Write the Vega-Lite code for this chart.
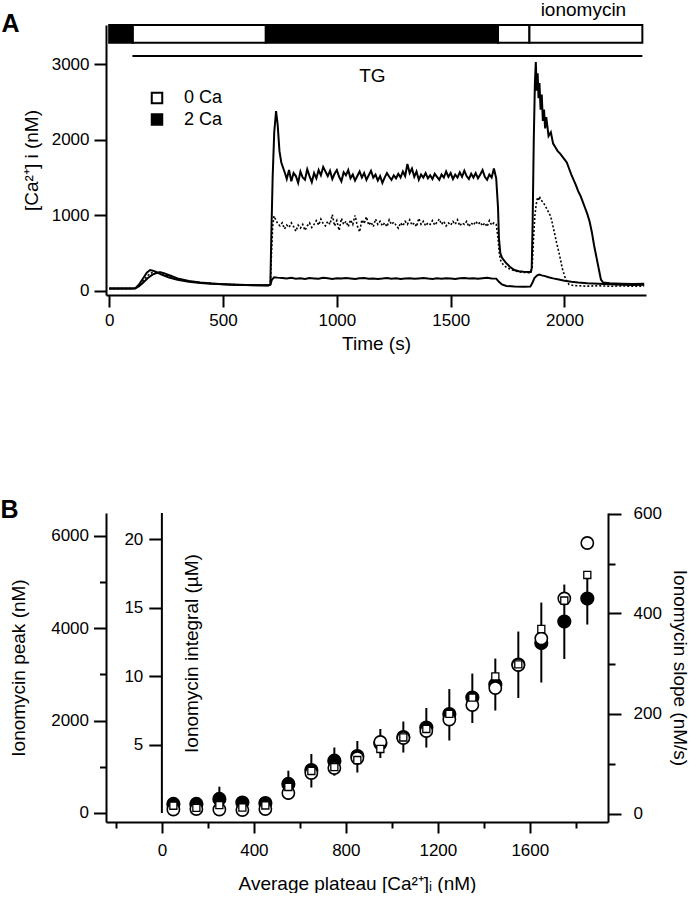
{
"$schema": "https://vega.github.io/schema/vega-lite/v6.json",
"padding": {"left": 0, "top": 0, "right": 8, "bottom": 0},
"spacing": 144,
"config": {
  "view": {"stroke": null},
  "font": "Liberation Sans",
  "axis": {"labelFont": "Liberation Sans", "titleFont": "Liberation Sans", "labelFontSize": 17, "titleFontSize": 19, "titleFontWeight": "normal", "labelColor": "black", "titleColor": "black", "domainColor": "black", "tickColor": "black", "domainWidth": 2, "tickWidth": 2, "grid": false, "labelFlush": false, "labelOverlap": false},
  "text": {"font": "Liberation Sans", "color": "black"}
},
"datasets": {
  "bar": [
    {"t0": 0, "t1": 104, "ca": "2 Ca"},
    {"t0": 104, "t1": 688, "ca": "0 Ca"},
    {"t0": 688, "t1": 1708, "ca": "2 Ca"},
    {"t0": 1708, "t1": 1846, "ca": "0 Ca"},
    {"t0": 1846, "t1": 2342, "ca": "0 Ca"}
  ],
  "a": [
    {"t":0,"v":30},{"t":50,"v":32},{"t":100,"v":30},{"t":115,"v":35},{"t":130,"v":80},{"t":150,"v":170},{"t":165,"v":240},{"t":180,"v":275},{"t":195,"v":265},{"t":210,"v":245},{"t":230,"v":215},{"t":260,"v":180},{"t":300,"v":145},{"t":350,"v":120},{"t":400,"v":105},{"t":450,"v":95},{"t":500,"v":88},{"t":550,"v":82},{"t":600,"v":78},{"t":650,"v":75},{"t":700,"v":74},{"t":708,"v":90},{"t":712,"v":700},{"t":718,"v":1500},{"t":725,"v":2100},{"t":733,"v":2380},{"t":740,"v":2200},{"t":748,"v":1850},{"t":756,"v":1700},{"t":765,"v":1620},{"t":772,"v":1560},
    {"t":780,"v":1480},{"t":790,"v":1600},{"t":800,"v":1450},{"t":810,"v":1560},{"t":820,"v":1520},{"t":830,"v":1430},{"t":840,"v":1580},{"t":850,"v":1500},{"t":860,"v":1470},{"t":870,"v":1610},{"t":880,"v":1520},{"t":890,"v":1440},{"t":900,"v":1560},{"t":910,"v":1490},{"t":920,"v":1600},{"t":930,"v":1530},{"t":940,"v":1640},{"t":950,"v":1580},{"t":960,"v":1520},{"t":970,"v":1590},{"t":980,"v":1480},{"t":990,"v":1550},{"t":1000,"v":1600},{"t":1010,"v":1510},{"t":1020,"v":1450},{"t":1030,"v":1570},{"t":1040,"v":1530},{"t":1050,"v":1600},{"t":1060,"v":1490},{"t":1070,"v":1540},{"t":1080,"v":1460},{"t":1090,"v":1520},{"t":1100,"v":1580},{"t":1110,"v":1500},{"t":1120,"v":1560},{"t":1130,"v":1470},{"t":1140,"v":1530},{"t":1150,"v":1590},{"t":1160,"v":1500},{"t":1170,"v":1540},{"t":1180,"v":1460},{"t":1190,"v":1520},{"t":1200,"v":1430},{"t":1210,"v":1500},{"t":1220,"v":1560},{"t":1230,"v":1510},{"t":1240,"v":1470},{"t":1250,"v":1530},{"t":1260,"v":1490},{"t":1270,"v":1550},{"t":1280,"v":1500},{"t":1290,"v":1580},{"t":1300,"v":1520},{"t":1310,"v":1680},{"t":1320,"v":1560},{"t":1330,"v":1620},{"t":1340,"v":1510},{"t":1350,"v":1580},{"t":1360,"v":1470},{"t":1370,"v":1540},{"t":1380,"v":1500},{"t":1390,"v":1560},{"t":1400,"v":1490},{"t":1410,"v":1530},{"t":1420,"v":1480},{"t":1430,"v":1550},{"t":1440,"v":1510},{"t":1450,"v":1470},{"t":1460,"v":1540},{"t":1470,"v":1500},{"t":1480,"v":1580},{"t":1490,"v":1510},{"t":1500,"v":1560},{"t":1510,"v":1480},{"t":1520,"v":1540},{"t":1530,"v":1500},{"t":1540,"v":1570},{"t":1550,"v":1510},{"t":1560,"v":1590},{"t":1570,"v":1520},{"t":1580,"v":1480},{"t":1590,"v":1550},{"t":1600,"v":1500},{"t":1610,"v":1560},{"t":1620,"v":1490},{"t":1630,"v":1540},{"t":1640,"v":1600},{"t":1650,"v":1510},{"t":1660,"v":1470},{"t":1670,"v":1540},{"t":1680,"v":1500},{"t":1690,"v":1620},{"t":1700,"v":1490},
    {"t":1708,"v":1100},{"t":1712,"v":700},{"t":1718,"v":500},{"t":1725,"v":440},{"t":1740,"v":380},{"t":1760,"v":320},{"t":1780,"v":275},{"t":1800,"v":260},{"t":1820,"v":252},{"t":1840,"v":248},{"t":1852,"v":250},{"t":1856,"v":300},{"t":1860,"v":900},{"t":1865,"v":2000},{"t":1870,"v":2750},{"t":1874,"v":3030},{"t":1878,"v":2650},{"t":1882,"v":2880},{"t":1886,"v":2550},{"t":1890,"v":2750},{"t":1895,"v":2400},{"t":1900,"v":2600},{"t":1905,"v":2250},{"t":1910,"v":2400},{"t":1915,"v":2150},{"t":1920,"v":2300},{"t":1930,"v":2050},{"t":1940,"v":2100},{"t":1950,"v":1950},{"t":1960,"v":1900},{"t":1970,"v":1850},{"t":1980,"v":1820},{"t":1990,"v":1780},{"t":2000,"v":1740},{"t":2010,"v":1700},{"t":2020,"v":1620},{"t":2030,"v":1540},{"t":2040,"v":1470},{"t":2050,"v":1400},{"t":2060,"v":1320},{"t":2070,"v":1260},{"t":2080,"v":1180},{"t":2090,"v":1100},{"t":2100,"v":1020},{"t":2110,"v":920},{"t":2120,"v":780},{"t":2130,"v":600},{"t":2140,"v":450},{"t":2150,"v":300},{"t":2160,"v":150},{"t":2170,"v":110},{"t":2200,"v":100},{"t":2250,"v":95},{"t":2300,"v":90},{"t":2350,"v":95}
  ],
  "b": [
    {"t":0,"v":30},{"t":50,"v":30},{"t":100,"v":31},{"t":115,"v":33},{"t":130,"v":70},{"t":150,"v":140},{"t":170,"v":205},{"t":190,"v":245},{"t":205,"v":255},{"t":220,"v":245},{"t":240,"v":220},{"t":270,"v":185},{"t":300,"v":155},{"t":350,"v":125},{"t":400,"v":108},{"t":450,"v":96},{"t":500,"v":88},{"t":550,"v":82},{"t":600,"v":78},{"t":650,"v":75},{"t":700,"v":73},{"t":708,"v":85},{"t":713,"v":500},{"t":718,"v":850},{"t":724,"v":990},{"t":732,"v":940},{"t":740,"v":890},
    {"t":750,"v":860},{"t":760,"v":900},{"t":770,"v":820},{"t":780,"v":870},{"t":790,"v":840},{"t":800,"v":900},{"t":810,"v":850},{"t":820,"v":790},{"t":830,"v":870},{"t":840,"v":830},{"t":850,"v":880},{"t":860,"v":800},{"t":870,"v":860},{"t":880,"v":900},{"t":890,"v":840},{"t":900,"v":880},{"t":910,"v":930},{"t":920,"v":870},{"t":930,"v":950},{"t":940,"v":890},{"t":950,"v":860},{"t":960,"v":920},{"t":970,"v":880},{"t":980,"v":1010},{"t":990,"v":860},{"t":1000,"v":930},{"t":1010,"v":800},{"t":1020,"v":960},{"t":1030,"v":880},{"t":1040,"v":920},{"t":1050,"v":850},{"t":1060,"v":940},{"t":1070,"v":880},{"t":1080,"v":1000},{"t":1090,"v":860},{"t":1100,"v":780},{"t":1110,"v":940},{"t":1120,"v":890},{"t":1130,"v":980},{"t":1140,"v":870},{"t":1150,"v":910},{"t":1160,"v":850},{"t":1170,"v":950},{"t":1180,"v":880},{"t":1190,"v":920},{"t":1200,"v":860},{"t":1210,"v":900},{"t":1220,"v":850},{"t":1230,"v":940},{"t":1240,"v":880},{"t":1250,"v":910},{"t":1260,"v":870},{"t":1270,"v":830},{"t":1280,"v":900},{"t":1290,"v":860},{"t":1300,"v":920},{"t":1310,"v":880},{"t":1320,"v":940},{"t":1330,"v":870},{"t":1340,"v":900},{"t":1350,"v":850},{"t":1360,"v":960},{"t":1370,"v":880},{"t":1380,"v":920},{"t":1390,"v":860},{"t":1400,"v":900},{"t":1410,"v":880},{"t":1420,"v":930},{"t":1430,"v":870},{"t":1440,"v":910},{"t":1450,"v":950},{"t":1460,"v":880},{"t":1470,"v":920},{"t":1480,"v":860},{"t":1490,"v":900},{"t":1500,"v":870},{"t":1510,"v":920},{"t":1520,"v":880},{"t":1530,"v":940},{"t":1540,"v":860},{"t":1550,"v":900},{"t":1560,"v":880},{"t":1570,"v":920},{"t":1580,"v":850},{"t":1590,"v":900},{"t":1600,"v":870},{"t":1610,"v":920},{"t":1620,"v":880},{"t":1630,"v":910},{"t":1640,"v":860},{"t":1650,"v":900},{"t":1660,"v":850},{"t":1670,"v":930},{"t":1680,"v":870},{"t":1690,"v":900},{"t":1700,"v":880},
    {"t":1708,"v":700},{"t":1714,"v":480},{"t":1720,"v":400},{"t":1730,"v":350},{"t":1745,"v":310},{"t":1760,"v":290},{"t":1780,"v":265},{"t":1800,"v":252},{"t":1820,"v":245},{"t":1840,"v":240},{"t":1852,"v":242},{"t":1858,"v":320},{"t":1864,"v":700},{"t":1870,"v":1000},{"t":1876,"v":1150},{"t":1882,"v":1240},{"t":1886,"v":1190},{"t":1890,"v":1250},{"t":1896,"v":1200},{"t":1905,"v":1180},{"t":1920,"v":1100},{"t":1940,"v":980},{"t":1955,"v":780},{"t":1965,"v":640},{"t":1973,"v":540},{"t":1982,"v":420},{"t":1990,"v":300},{"t":2000,"v":200},{"t":2007,"v":140},{"t":2020,"v":85},{"t":2040,"v":70},{"t":2100,"v":62},{"t":2150,"v":68},{"t":2200,"v":60},{"t":2250,"v":66},{"t":2300,"v":60},{"t":2350,"v":64}
  ],
  "c": [
    {"t":0,"v":30},{"t":50,"v":31},{"t":100,"v":30},{"t":115,"v":33},{"t":130,"v":60},{"t":150,"v":110},{"t":170,"v":170},{"t":190,"v":215},{"t":210,"v":240},{"t":225,"v":245},{"t":240,"v":235},{"t":270,"v":200},{"t":300,"v":165},{"t":350,"v":130},{"t":400,"v":110},{"t":450,"v":97},{"t":500,"v":88},{"t":550,"v":82},{"t":600,"v":77},{"t":650,"v":74},{"t":700,"v":72},{"t":708,"v":80},{"t":715,"v":150},{"t":725,"v":180},{"t":740,"v":175},{"t":760,"v":170},{"t":780,"v":165},{"t":800,"v":172},{"t":820,"v":160},{"t":840,"v":168},{"t":860,"v":158},{"t":880,"v":170},{"t":900,"v":165},{"t":920,"v":160},{"t":940,"v":172},{"t":960,"v":166},{"t":980,"v":158},{"t":1000,"v":168},{"t":1020,"v":162},{"t":1040,"v":170},{"t":1060,"v":164},{"t":1080,"v":158},{"t":1100,"v":166},{"t":1120,"v":170},{"t":1140,"v":160},{"t":1160,"v":165},{"t":1180,"v":158},{"t":1200,"v":163},{"t":1220,"v":170},{"t":1240,"v":160},{"t":1260,"v":166},{"t":1280,"v":158},{"t":1300,"v":163},{"t":1320,"v":168},{"t":1340,"v":160},{"t":1360,"v":165},{"t":1380,"v":170},{"t":1400,"v":162},{"t":1420,"v":158},{"t":1440,"v":166},{"t":1460,"v":160},{"t":1480,"v":168},{"t":1500,"v":163},{"t":1520,"v":158},{"t":1540,"v":166},{"t":1560,"v":170},{"t":1580,"v":162},{"t":1600,"v":166},{"t":1620,"v":160},{"t":1640,"v":168},{"t":1660,"v":172},{"t":1680,"v":165},{"t":1700,"v":162},{"t":1712,"v":120},{"t":1725,"v":85},{"t":1745,"v":65},{"t":1780,"v":58},{"t":1820,"v":55},{"t":1850,"v":56},{"t":1858,"v":100},{"t":1868,"v":170},{"t":1880,"v":205},{"t":1890,"v":215},{"t":1900,"v":205},{"t":1915,"v":195},{"t":1930,"v":180},{"t":1950,"v":165},{"t":1975,"v":150},{"t":2000,"v":135},{"t":2030,"v":120},{"t":2060,"v":110},{"t":2100,"v":100},{"t":2150,"v":95},{"t":2200,"v":88},{"t":2250,"v":82},{"t":2300,"v":78},{"t":2350,"v":80}
  ],
  "bpts": [
    {"x":50,"peak":195,"lo":130,"hi":260,"slope":8,"integ":0.53},
    {"x":150,"peak":195,"lo":140,"hi":250,"slope":9,"integ":0.37},
    {"x":250,"peak":303,"lo":43,"hi":569,"slope":8,"integ":0.58},
    {"x":350,"peak":227,"lo":160,"hi":300,"slope":7,"integ":0.40},
    {"x":450,"peak":216,"lo":150,"hi":290,"slope":9,"integ":0.55},
    {"x":550,"peak":628,"lo":281,"hi":915,"slope":41,"integ":1.9},
    {"x":650,"peak":930,"lo":552,"hi":1277,"slope":81,"integ":3.07},
    {"x":750,"peak":1132,"lo":807,"hi":1417,"slope":91,"integ":3.36},
    {"x":850,"peak":1233,"lo":876,"hi":1558,"slope":111,"integ":3.87},
    {"x":950,"peak":1504,"lo":1190,"hi":1818,"slope":143,"integ":4.68},
    {"x":1050,"peak":1645,"lo":1309,"hi":1980,"slope":151,"integ":5.52},
    {"x":1150,"peak":1850,"lo":1417,"hi":2272,"slope":165,"integ":6.14},
    {"x":1250,"peak":2142,"lo":1569,"hi":2683,"slope":188,"integ":7.24},
    {"x":1350,"peak":2499,"lo":1948,"hi":3019,"slope":217,"integ":8.44},
    {"x":1450,"peak":2781,"lo":2218,"hi":3343,"slope":251,"integ":9.98},
    {"x":1550,"peak":3214,"lo":2489,"hi":3928,"slope":297,"integ":10.86},
    {"x":1650,"peak":3679,"lo":2824,"hi":4555,"slope":350,"integ":13.45},
    {"x":1750,"peak":4144,"lo":3333,"hi":4945,"slope":430,"integ":15.53},
    {"x":1850,"peak":4642,"lo":4079,"hi":5096,"slope":541,"integ":17.40}
  ]
},
"vconcat": [
  {
    "width": 540,
    "height": 270,
    "layer": [
      {
        "data": {"name": "bar"},
        "mark": {"type": "rect", "stroke": "black", "strokeWidth": 2},
        "encoding": {
          "x": {"field": "t0", "type": "quantitative", "scale": {"domain": [-14, 2358], "nice": false, "zero": false},
                "axis": {"title": "Time (s)", "values": [0, 500, 1000, 1500, 2000], "format": "d", "tickSize": 12, "labelPadding": 5, "titlePadding": 6}},
          "x2": {"field": "t1"},
          "y": {"datum": 3285, "type": "quantitative", "scale": {"domain": [-55, 3520], "nice": false, "zero": false},
                "axis": {"title": "[Ca²⁺] i (nM)", "values": [0, 500, 1000, 1500, 2000, 2500, 3000, 3500], "format": "d",
                         "labelExpr": "datum.value % 1000 == 0 ? datum.label : ''",
                         "tickSize": {"condition": {"test": "datum.value % 1000 == 0", "value": 12}, "value": 7},
                         "labelPadding": 5, "titlePadding": 10}},
          "y2": {"datum": 3519},
          "fill": {"field": "ca", "type": "nominal", "scale": {"domain": ["0 Ca", "2 Ca"], "range": ["white", "black"]},
                   "legend": {"orient": "none", "legendX": 42, "legendY": 64, "title": null, "symbolType": "square", "symbolSize": 110, "symbolStrokeColor": "black", "symbolStrokeWidth": 2, "labelFontSize": 18, "labelFont": "Liberation Sans", "labelColor": "black", "labelOffset": 18, "rowPadding": 1.5, "padding": 0}}
        }
      },
      {
        "data": {"values": [{}]},
        "mark": {"type": "text", "fontSize": 25, "fontWeight": "bold", "align": "left", "baseline": "alphabetic"},
        "encoding": {"x": {"datum": -473}, "y": {"datum": 3427}, "text": {"value": "A"}}
      },
      {
        "data": {"values": [{}]},
        "mark": {"type": "rule", "strokeWidth": 2, "color": "black"},
        "encoding": {"x": {"datum": 102}, "x2": {"datum": 2342}, "y": {"datum": 3109}}
      },
      {
        "data": {"values": [{}]},
        "mark": {"type": "text", "fontSize": 19, "align": "center", "baseline": "alphabetic"},
        "encoding": {"x": {"datum": 1156}, "y": {"datum": 2769}, "text": {"value": "TG"}}
      },
      {
        "data": {"values": [{}]},
        "mark": {"type": "text", "fontSize": 19, "align": "center", "baseline": "alphabetic"},
        "encoding": {"x": {"datum": 2083}, "y": {"datum": 3645}, "text": {"value": "ionomycin"}}
      },
      {
        "data": {"name": "c"},
        "mark": {"type": "line", "color": "black", "strokeWidth": 2},
        "encoding": {"x": {"field": "t", "type": "quantitative"}, "y": {"field": "v", "type": "quantitative"}}
      },
      {
        "data": {"name": "b"},
        "mark": {"type": "line", "color": "black", "strokeWidth": 1.6, "strokeDash": [2, 2]},
        "encoding": {"x": {"field": "t", "type": "quantitative"}, "y": {"field": "v", "type": "quantitative"}}
      },
      {
        "data": {"name": "a"},
        "mark": {"type": "line", "color": "black", "strokeWidth": 2},
        "encoding": {"x": {"field": "t", "type": "quantitative"}, "y": {"field": "v", "type": "quantitative"}}
      }
    ]
  },
  {
    "width": 502,
    "height": 309,
    "data": {"name": "bpts"},
    "resolve": {"scale": {"y": "independent"}},
    "layer": [
      {
        "layer": [
          {
            "mark": {"type": "rule", "color": "black", "strokeWidth": 2},
            "encoding": {
              "x": {"field": "x", "type": "quantitative", "scale": {"domain": [-243, 1940], "nice": false, "zero": false},
                    "axis": {"title": "Average plateau [Ca²⁺]ᵢ (nM)", "values": [-200, 0, 200, 400, 600, 800, 1000, 1200, 1400, 1600, 1800], "format": "d",
                             "labelExpr": "datum.value % 400 == 0 ? datum.label : ''",
                             "tickSize": {"condition": {"test": "datum.value % 400 == 0", "value": 11}, "value": 6},
                             "labelPadding": 9, "titlePadding": 16}},
              "y": {"field": "lo", "type": "quantitative", "scale": {"domain": [-195, 6494], "nice": false, "zero": false},
                    "axis": {"title": "Ionomycin peak (nM)", "orient": "left", "values": [0, 1000, 2000, 3000, 4000, 5000, 6000], "format": "d",
                             "labelExpr": "datum.value % 2000 == 0 ? datum.label : ''",
                             "tickSize": {"condition": {"test": "datum.value % 2000 == 0", "value": 12.5}, "value": 6.5},
                             "labelPadding": 5, "titlePadding": 22}},
              "y2": {"field": "hi"}
            }
          },
          {
            "mark": {"type": "point", "shape": "circle", "filled": true, "fill": "black", "stroke": "black", "size": 150, "opacity": 1},
            "encoding": {
              "x": {"field": "x", "type": "quantitative"},
              "y": {"field": "peak", "type": "quantitative"}
            }
          },
          {
            "data": {"values": [{}]},
            "mark": {"type": "text", "fontSize": 25, "fontWeight": "bold", "align": "left", "baseline": "alphabetic"},
            "encoding": {"x": {"datum": -702}, "y": {"datum": 6386, "type": "quantitative"}, "text": {"value": "B"}}
          }
        ]
      },
      {
        "mark": {"type": "point", "shape": "circle", "filled": false, "fill": "white", "fillOpacity": 1, "stroke": "black", "strokeWidth": 1.6, "size": 150, "opacity": 1},
        "encoding": {
          "x": {"field": "x", "type": "quantitative"},
          "y": {"field": "slope", "type": "quantitative", "scale": {"domain": [-17, 601], "nice": false, "zero": false},
                "axis": {"title": "Ionomycin slope (nM/s)", "orient": "right", "values": [0, 100, 200, 300, 400, 500, 600], "format": "d",
                         "labelExpr": "datum.value % 200 == 0 ? datum.label : ''",
                         "tickSize": {"condition": {"test": "datum.value % 200 == 0", "value": 13}, "value": 7},
                         "labelPadding": 12, "titlePadding": 8}}
        }
      },
      {
        "layer": [
          {
            "data": {"values": [{}]},
            "mark": {"type": "rule", "color": "black", "strokeWidth": 2},
            "encoding": {"x": {"datum": 0}, "y": {"datum": 0, "type": "quantitative"}, "y2": {"datum": 21.93}}
          },
          {
            "mark": {"type": "point", "shape": "square", "filled": false, "fill": "white", "fillOpacity": 1, "stroke": "black", "strokeWidth": 1.3, "size": 50, "opacity": 1},
            "encoding": {
              "x": {"field": "x", "type": "quantitative"},
              "y": {"field": "integ", "type": "quantitative", "scale": {"domain": [-0.66, 21.93], "nice": false, "zero": false},
                    "axis": {"title": "Ionomycin integral (µM)", "orient": "left", "offset": -55.8, "domain": false, "values": [5, 10, 15, 20], "format": "d",
                             "tickSize": 13, "labelPadding": 6, "titleX": 30, "titleY": 140, "titleAngle": -90, "titleAlign": "center", "titleBaseline": "middle"}}
            }
          }
        ]
      }
    ]
  }
]
}
